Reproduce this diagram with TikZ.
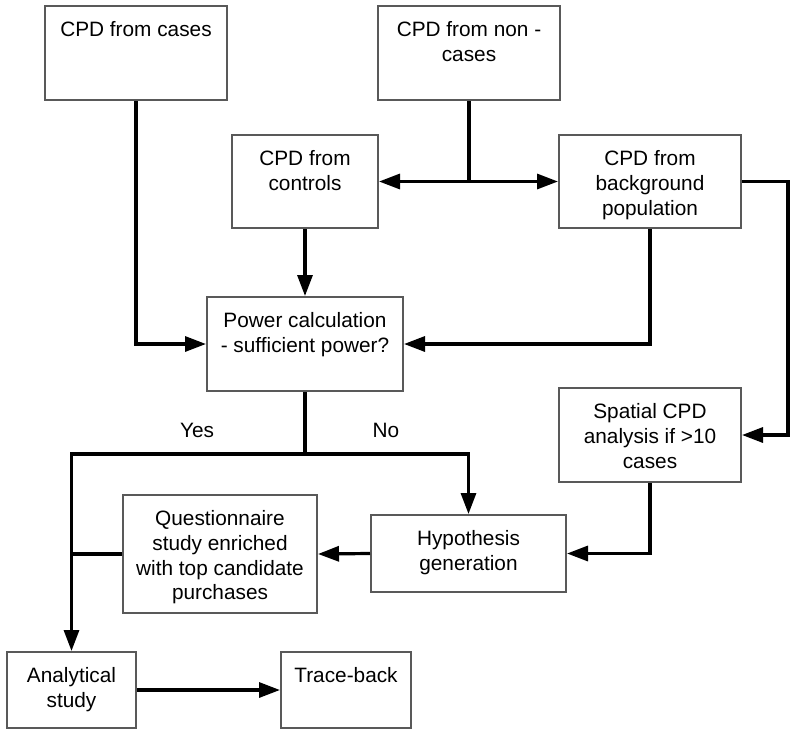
\documentclass[tikz,border=0pt]{standalone}
\usepackage{fontspec}
\setmainfont{Liberation Sans}
\usetikzlibrary{arrows.meta,calc}

\tikzset{
  box/.style 2 args={draw=black!65, line width=1pt, inner sep=0pt,
    minimum width=#1*0.5pt, minimum height=#2*0.5pt},
  txt/.style={anchor=north, align=center, inner sep=0pt, yshift=-8pt,
    font=\fontsize{10.4}{12.4}\selectfont},
  conn/.style={line width=1.6pt, -{Triangle[length=10.5pt,width=7.5pt]}},
  line/.style={line width=1.6pt}
}

\begin{document}
\begin{tikzpicture}[x=0.5pt,y=-0.5pt]
      \useasboundingbox (0,0) rectangle (800,735);

      \node[box={182}{94}, label={[txt]north:CPD from cases}] (cases) at (136,53) {};
      \node[box={182}{94}, label={[txt]north:CPD from non -\\cases}] (noncases) at (469,53) {};
      \node[box={146}{93}, label={[txt]north:CPD from\\controls}] (controls) at (305,181.5) {};
      \node[box={182}{93}, label={[txt]north:CPD from\\background\\population}] (backgr) at (650,181.5) {};
      \node[box={196}{94}, label={[txt]north:Power calculation\\- sufficient power?}] (power) at (305,344) {};
      \node[box={182}{94}, label={[txt]north:Spatial CPD\\analysis if >10\\cases}] (spatial) at (650,435) {};
      \node[box={195}{77}, label={[txt]north:Hypothesis\\generation}] (hypo) at (468.5,553.5) {};
      \node[box={194}{118}, label={[txt]north:Questionnaire\\study enriched\\with top candidate\\purchases}] (quest) at (220,554) {};
      \node[box={129}{76}, label={[txt]north:Analytical\\study}] (analyt) at (71.5,690) {};
      \node[box={130}{76}, label={[txt]north:Trace-back}] (trace) at (346,690) {};

      \node[font=\fontsize{10.4}{12.4}\selectfont] (yes) at (197,430) {Yes};
      \node[font=\fontsize{10.4}{12.4}\selectfont] (no) at (386,430) {No};

      \coordinate (split) at (noncases.south |- controls.east);
      \coordinate (branch) at ($(power.south)+(0,62)$);

      \draw[conn] (cases.south) |- (power.west);
      \draw[line] (noncases.south) -- (split);
      \draw[conn] (split) -- (controls.east);
      \draw[conn] (split) -- (backgr.west);
      \draw[conn] (controls.south) -- (power.north);
      \draw[conn] (backgr.south) |- (power.east);
      \draw[conn] (backgr.east) -- ++(46,0) |- (spatial.east);
      \draw[conn] (spatial.south) |- (hypo.east);
      \draw[conn] (hypo.west) -- (quest.east);
      \draw[line] (power.south) -- (branch);
      \draw[conn] (branch) -| (analyt.north);
      \draw[conn] (branch) -| (hypo.north);
      \draw[line] (quest.west) -- (quest.west -| analyt.north);
      \draw[conn] (analyt.east) -- (trace.west);
    \end{tikzpicture}
\end{document}
